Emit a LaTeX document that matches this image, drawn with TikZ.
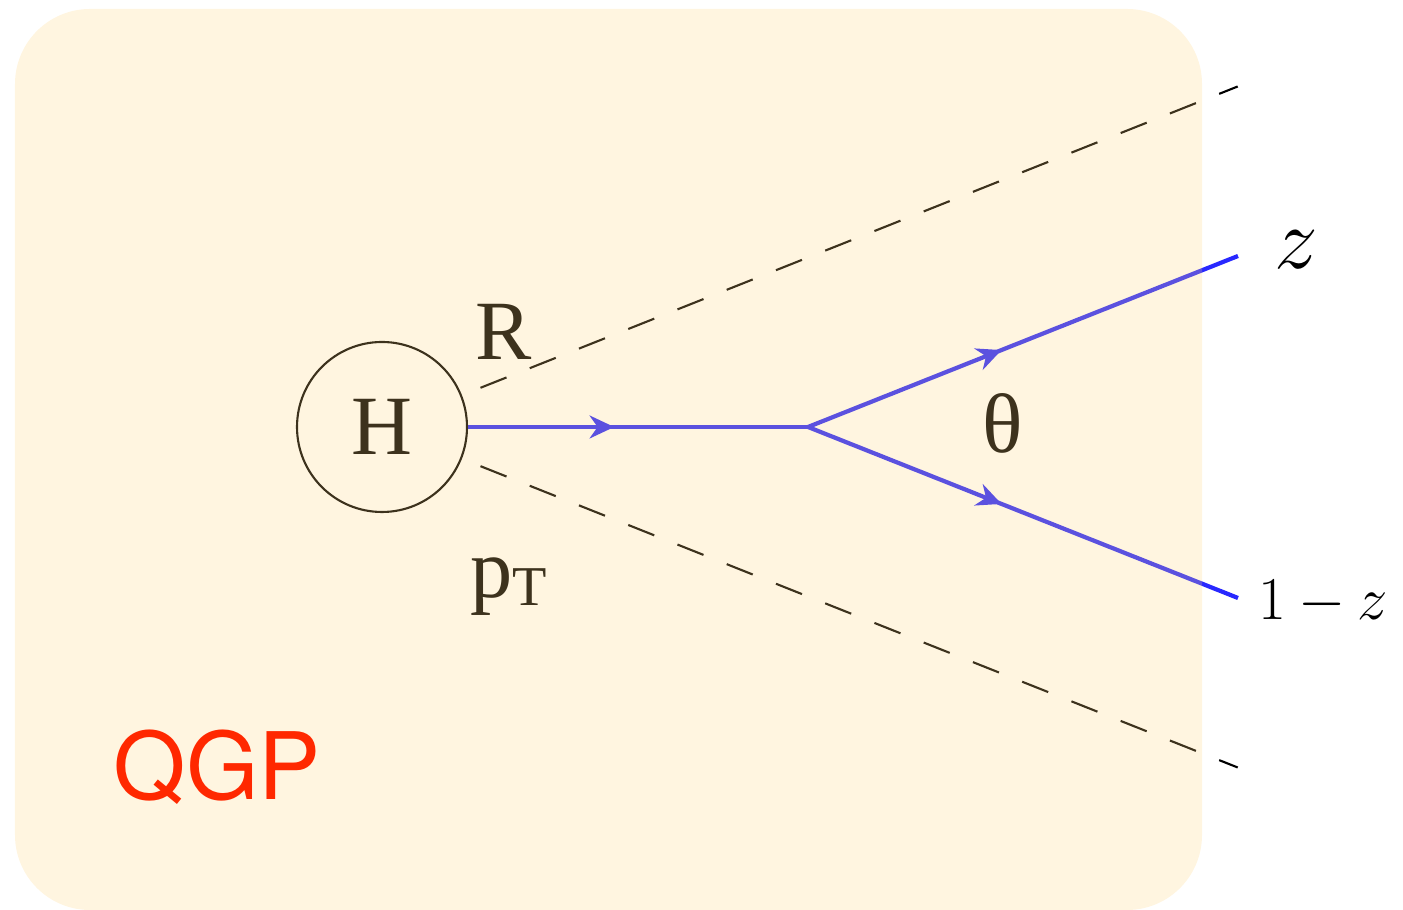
\documentclass[tikz,border=0pt]{standalone}
\usepackage{fontspec}
\setmainfont{Liberation Serif}
\newfontfamily\qgpfont{TeX Gyre Heros}
\usetikzlibrary{arrows.meta,decorations.markings}
\definecolor{jetblue}{RGB}{40,40,255}
\definecolor{qgpfill}{RGB}{255,212,125}
\definecolor{qgpred}{RGB}{255,40,0}

\begin{document}
\begin{tikzpicture}[
    jet/.style={draw=jetblue, line width=1.2pt},
    midarrow/.style={jet, postaction={decorate},
        decoration={markings, mark=at position #1 with {\arrow[jetblue]{Stealth[length=7pt,width=6.5pt]}}}},
    cone/.style={draw=black, line width=0.6pt, dash pattern=on 0.28cm off 0.25cm},
    lbl/.style={inner sep=0pt, font=\fontsize{24}{28}\selectfont}
]
\pgfmathsetmacro{\ang}{21.7}
\useasboundingbox (0,0) rectangle (14.03,9.10);

%% hard vertex and the splitting
\node[circle, draw=black, line width=0.6pt, minimum size=1.70cm, inner sep=0pt,
      font=\fontsize{24}{28}\selectfont] (H) at (3.82,4.83) {H};
\coordinate (vtx)  at (8.08,4.83);
\coordinate (zend) at (12.38,6.54);
\coordinate (zbar) at (12.38,3.12);
\draw[midarrow=0.43] (H.east) -- (vtx);
\draw[midarrow=0.45] (vtx) -- (zend);
\draw[midarrow=0.45] (vtx) -- (zbar);

%% jet cone
\path (H.center) ++(\ang:1.06) coordinate (up0) ++(\ang:8.15) coordinate (up1);
\path (H.center) ++(-\ang:1.06) coordinate (lo0) ++(-\ang:8.15) coordinate (lo1);
\draw[cone] (up0) -- (up1);
\draw[cone] (lo0) -- (lo1);

%% labels
\node[lbl, anchor=base west] (R)  at (4.75,5.50) {R};
\node[lbl, anchor=base west] (pT) at (4.70,3.12) {p\raisebox{-2pt}{\fontsize{16}{18}\selectfont T}};
\node[lbl] (theta) at (10.03,4.87) {θ};
\node[lbl] (z) at (12.96,6.60) {$z$};
\node[inner sep=0pt, anchor=base west, font=\fontsize{19}{22}\selectfont] (zb) at (12.58,2.90) {$1\mskip3.5mu{-}\mskip3.5mu z$};

%% medium
\fill[qgpfill, fill opacity=0.24, rounded corners=0.75cm] (0.15,0) rectangle (12.02,9.01);
\node[inner sep=0pt, anchor=base west, text=qgpred, font=\qgpfont\fontsize{26.5}{30}\selectfont] (qgp) at (1.13,1.10) {QGP};
\end{tikzpicture}
\end{document}
